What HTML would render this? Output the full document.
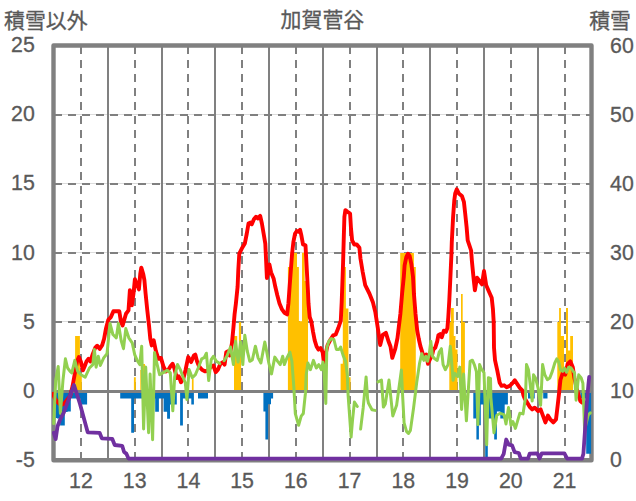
<!DOCTYPE html>
<html><head><meta charset="utf-8"><title>chart</title>
<style>html,body{margin:0;padding:0;background:#fff;overflow:hidden}svg{display:block}text{font-family:"Liberation Sans",sans-serif}</style>
</head><body>
<svg width="636" height="501" viewBox="0 0 636 501">
<rect width="636" height="501" fill="#fff"/>
<defs><clipPath id="c"><rect x="53.5" y="45.5" width="537.7" height="416.7"/></clipPath><clipPath id="c2"><rect x="52.0" y="45.5" width="541.0" height="417.7"/></clipPath></defs>
<rect x="53.5" y="45.5" width="538.0" height="414.7" fill="none" stroke="#808080" stroke-width="4.4" stroke-linejoin="round"/>
<line x1="55.5" x2="589.5" y1="321.5" y2="321.5" stroke="#dcdcdc" stroke-width="1"/>
<line x1="55.5" x2="589.5" y1="252.5" y2="252.5" stroke="#dcdcdc" stroke-width="1"/>
<line x1="55.5" x2="589.5" y1="183.5" y2="183.5" stroke="#dcdcdc" stroke-width="1"/>
<line x1="55.5" x2="589.5" y1="114.5" y2="114.5" stroke="#dcdcdc" stroke-width="1"/>
<line x1="54" x2="591.5" y1="322" y2="322" stroke="#808080" stroke-width="2" stroke-dasharray="8 6"/>
<line x1="54" x2="591.5" y1="253" y2="253" stroke="#808080" stroke-width="2" stroke-dasharray="8 6"/>
<line x1="54" x2="591.5" y1="184" y2="184" stroke="#808080" stroke-width="2" stroke-dasharray="8 6"/>
<line x1="54" x2="591.5" y1="115" y2="115" stroke="#808080" stroke-width="2" stroke-dasharray="8 6"/>
<line x1="108" x2="108" y1="45.5" y2="460.2" stroke="#808080" stroke-width="2"/>
<line x1="162" x2="162" y1="45.5" y2="460.2" stroke="#808080" stroke-width="2"/>
<line x1="215" x2="215" y1="45.5" y2="460.2" stroke="#808080" stroke-width="2"/>
<line x1="269" x2="269" y1="45.5" y2="460.2" stroke="#808080" stroke-width="2"/>
<line x1="323" x2="323" y1="45.5" y2="460.2" stroke="#808080" stroke-width="2"/>
<line x1="377" x2="377" y1="45.5" y2="460.2" stroke="#808080" stroke-width="2"/>
<line x1="430" x2="430" y1="45.5" y2="460.2" stroke="#808080" stroke-width="2"/>
<line x1="484" x2="484" y1="45.5" y2="460.2" stroke="#808080" stroke-width="2"/>
<line x1="538" x2="538" y1="45.5" y2="460.2" stroke="#808080" stroke-width="2"/>
<line x1="81" x2="81" y1="46" y2="460.2" stroke="#808080" stroke-width="2" stroke-dasharray="8 6"/>
<line x1="135" x2="135" y1="46" y2="460.2" stroke="#808080" stroke-width="2" stroke-dasharray="8 6"/>
<line x1="188" x2="188" y1="46" y2="460.2" stroke="#808080" stroke-width="2" stroke-dasharray="8 6"/>
<line x1="242" x2="242" y1="46" y2="460.2" stroke="#808080" stroke-width="2" stroke-dasharray="8 6"/>
<line x1="296" x2="296" y1="46" y2="460.2" stroke="#808080" stroke-width="2" stroke-dasharray="8 6"/>
<line x1="350" x2="350" y1="46" y2="460.2" stroke="#808080" stroke-width="2" stroke-dasharray="8 6"/>
<line x1="403" x2="403" y1="46" y2="460.2" stroke="#808080" stroke-width="2" stroke-dasharray="8 6"/>
<line x1="457" x2="457" y1="46" y2="460.2" stroke="#808080" stroke-width="2" stroke-dasharray="8 6"/>
<line x1="511" x2="511" y1="46" y2="460.2" stroke="#808080" stroke-width="2" stroke-dasharray="8 6"/>
<line x1="565" x2="565" y1="46" y2="460.2" stroke="#808080" stroke-width="2" stroke-dasharray="8 6"/>
<g clip-path="url(#c)">
<path d="M75.1,391.5V336.0H79.9V391.5ZM76.8,391.5V373.0H81.8V391.5ZM133.9,391.5V377.2H135.8V391.5ZM140.3,391.5V370.0H141.3V391.5ZM143.1,391.5V364.0H145.0V391.5ZM191.9,391.5V379.0H193.6V391.5ZM234.0,391.5V336.1H237.2V391.5ZM235.0,391.5V336.3H236.7V391.5ZM237.2,391.5V363.0H238.9V321.9H241.1V391.5ZM287.9,391.5V267.1H290.6V252.8H297.0V267.1H298.9V321.2H302.0V252.8H304.7V281.0H308.0V391.5ZM340.6,391.5V363.8H342.8V267.1H345.9V308.6H348.4V377.2H350.6V391.5ZM400.2,391.5V253.0H413.9V267.1H415.8V391.5ZM449.3,391.5V322.0H451.0V307.9H453.8V336.1H455.5V349.5H457.5V391.5ZM461.0,391.5V293.9H462.7V322.1H464.9V391.5ZM557.3,391.5V322.0H559.1V308.1H560.9V336.1H564.0V375.5H566.0V308.1H568.0V350.4H570.2V336.1H573.0V391.5Z" fill="#ffc000"/>
<path d="M55.7,391.5V418.0H56.9V418.5H60.1V425.5H64.8V412.0H67.6V411.6H70.8V398.6H80.8V404.5H87.1V391.5ZM120.2,391.5V398.6H131.2V432.8H134.0V398.6H141.3V398.6H155.2V411.7H158.9V398.6H163.6V411.7H167.1V418.7H170.0V404.5H176.8V391.5ZM180.1,391.5V425.5H182.9V398.6H191.3V404.5H193.9V391.5ZM198.0,391.5V398.6H208.0V391.5ZM263.4,391.5V411.5H265.4V439.5H268.1V404.3H271.0V398.4H273.1V391.5ZM473.3,391.5V418.4H476.4V439.6H478.9V425.3H480.8V404.5H485.2V457.2H487.8V418.4H494.2V439.6H496.9V411.6H500.3V418.4H504.7V404.5H507.9V391.5ZM528.0,391.5V398.5H534.7V391.5ZM543.2,391.5V398.5H547.5V391.5ZM580.3,391.5V398.5H586.2V453.8H591.5V391.5Z" fill="#0070c0"/>
<line x1="53.5" x2="591.5" y1="391.50" y2="391.50" stroke="#808080" stroke-width="3"/>
</g>
<g clip-path="url(#c2)">
<polyline points="53.1,393.8 55.0,398.8 57.5,402.0 60.7,405.1 63.8,403.9 67.0,400.1 70.1,396.3 72.6,386.0 75.2,371.5 77.0,361.4 78.9,357.0 80.8,361.4 83.0,370.3 84.6,366.5 86.5,361.4 88.4,358.9 90.3,361.4 92.8,353.9 95.3,347.6 97.2,345.7 99.7,348.9 102.2,345.1 104.1,338.8 105.9,328.8 108.4,319.6 110.9,317.1 113.4,311.2 116.8,311.2 119.3,311.2 121.0,322.1 122.6,325.4 124.3,319.6 126.0,313.7 128.5,310.4 129.9,290.2 131.9,305.3 133.5,293.6 134.9,279.3 136.9,284.4 138.9,289.4 140.3,273.5 141.3,267.6 143.3,274.3 144.4,280.2 145.6,293.6 147.3,310.4 149.0,325.4 150.3,338.9 151.7,345.4 153.7,340.3 155.9,351.2 158.4,358.8 160.9,357.9 163.4,366.3 165.9,371.4 168.4,369.7 170.5,366.3 172.6,363.8 174.3,368.0 176.8,378.0 178.8,376.4 181.0,382.2 183.5,378.0 185.6,369.7 188.2,357.1 191.1,362.1 193.9,355.4 195.3,354.6 197.0,361.3 199.0,366.3 202.0,369.7 205.3,371.4 208.7,369.7 211.2,366.3 213.4,365.5 215.7,372.2 217.9,369.7 220.4,363.8 223.0,362.1 224.6,364.6 226.3,352.1 228.0,351.2 229.7,355.4 231.9,343.7 233.4,328.0 234.6,314.0 235.9,303.5 237.6,286.8 238.3,270.0 239.3,253.6 241.8,248.6 244.8,243.6 246.8,233.5 248.5,223.5 250.2,222.6 251.8,224.3 253.9,219.3 256.0,216.7 258.0,218.4 260.2,215.9 261.9,223.5 263.6,233.5 265.3,243.6 266.1,260.4 266.9,278.0 268.3,272.1 269.4,264.5 271.1,272.5 273.6,278.4 275.3,286.8 277.3,295.2 279.5,303.5 282.0,309.4 284.5,312.8 287.1,314.4 288.4,303.5 289.6,286.8 290.7,272.1 292.1,253.6 293.4,241.9 295.1,233.5 296.8,231.0 298.5,231.8 300.1,229.8 301.3,235.2 303.0,244.4 305.5,245.3 306.3,260.4 307.2,277.1 307.9,290.0 308.5,303.5 309.7,317.0 311.4,322.0 313.1,332.1 314.7,340.4 316.6,346.5 318.4,349.6 320.6,348.0 322.7,352.5 324.1,364.6 325.5,354.6 327.5,345.4 330.5,339.5 333.2,335.4 335.7,334.5 338.3,328.0 340.8,320.6 341.7,301.9 342.6,276.8 343.1,262.1 343.8,236.9 344.4,216.8 345.4,210.1 347.6,211.8 350.1,213.5 351.0,228.5 352.1,240.3 354.3,244.5 356.8,244.5 359.4,247.8 360.5,258.7 362.7,272.0 365.2,285.2 369.4,293.5 372.8,301.9 375.3,312.0 377.8,328.0 380.2,345.0 382.7,335.0 385.9,332.9 388.4,341.0 390.5,346.5 392.3,357.9 395.3,348.7 397.5,338.0 398.8,327.1 400.4,313.7 402.1,293.5 403.8,276.8 404.6,265.4 406.3,257.1 408.0,253.7 409.7,256.2 411.3,263.8 413.0,276.8 413.9,293.5 415.5,313.7 417.2,330.4 418.8,339.0 420.4,346.2 422.5,352.9 424.6,357.9 426.3,354.6 428.0,363.8 430.2,358.8 432.2,354.6 433.4,349.5 435.3,347.6 437.2,341.4 438.4,335.1 440.1,334.1 441.8,337.3 443.8,330.7 446.0,331.9 447.4,328.1 448.3,317.1 449.3,300.3 450.5,275.2 451.4,255.0 451.8,242.1 453.1,216.9 454.3,200.2 455.2,193.4 456.8,189.3 458.8,193.4 461.9,196.0 463.9,201.8 465.2,213.6 466.6,227.0 467.7,240.4 469.4,245.4 471.1,250.5 471.9,261.0 473.6,278.5 474.9,290.3 477.0,277.7 479.5,281.0 482.0,284.4 484.0,271.0 486.2,285.2 488.7,291.1 491.7,297.8 492.9,308.7 493.7,322.1 494.0,347.6 495.0,360.2 497.2,370.2 499.7,382.8 501.6,385.9 504.1,385.3 506.6,387.2 509.7,385.9 512.3,383.4 514.8,380.3 517.3,384.1 519.8,387.8 522.3,390.3 523.5,395.5 524.6,398.4 527.2,402.6 529.7,406.8 532.2,409.4 534.7,407.7 538.1,411.0 540.6,409.4 543.1,416.1 545.4,422.4 547.9,415.6 550.3,419.4 553.3,422.4 556.0,419.4 557.7,405.2 559.4,390.1 560.4,380.0 562.7,373.0 565.2,374.7 567.7,363.8 570.3,361.3 572.8,367.2 574.4,378.1 577.0,389.8 579.2,397.0 580.3,401.0 582.0,402.5" fill="none" stroke="#ff0000" stroke-width="3.9" stroke-linejoin="round" stroke-linecap="round"/>
<polyline points="53.7,423.6 55.7,380.3 58.2,366.5 60.4,413.5 63.0,380.0 65.4,358.8 67.6,368.0 70.1,371.4 71.8,373.0 74.8,360.4 77.7,371.4 81.0,374.7 85.2,377.2 89.4,368.0 92.8,364.6 94.4,349.5 96.1,367.2 98.3,356.3 100.3,365.5 103.7,357.9 107.0,353.7 110.0,323.5 112.9,334.5 116.3,337.8 118.4,323.5 121.3,341.2 123.5,348.7 125.8,328.6 128.8,337.8 132.2,342.8 134.7,354.6 137.2,360.4 139.7,364.6 141.7,346.2 143.6,429.0 145.7,367.0 148.6,432.8 150.1,374.0 152.6,439.7 154.5,352.6 157.0,363.9 159.6,374.6 163.3,372.7 167.1,370.2 170.3,372.7 172.8,410.8 174.7,376.5 177.5,364.5 180.3,369.6 182.8,376.5 185.3,382.8 186.9,399.5 189.1,369.6 192.3,377.7 195.4,374.6 198.6,367.0 201.7,358.9 204.2,357.6 206.4,353.2 208.7,380.6 211.2,359.6 213.4,356.3 216.3,361.3 219.8,363.6" fill="none" stroke="#92d050" stroke-width="3.0" stroke-linejoin="round" stroke-linecap="round"/>
<polyline points="224.1,360.8 227.2,355.4 230.5,347.0 233.4,364.6 235.5,341.2 238.1,362.1 240.6,342.0 242.8,364.6 244.8,335.3 247.3,351.2 249.8,361.3 252.3,360.0 255.4,346.2 258.1,357.9 260.9,363.0 264.8,342.0 266.8,352.1 268.8,363.0 271.5,373.9 274.8,357.1 277.7,361.3 280.2,364.6 282.7,356.3 284.4,364.6 286.9,357.9 289.9,352.1 291.9,361.3 293.9,388.1 295.3,413.5 298.6,425.3 301.2,416.1 303.3,413.5 305.4,393.4 306.2,374.7 307.9,363.0 310.4,369.7 313.4,360.4 316.3,368.0 318.8,364.6 321.3,369.7 323.0,362.1 323.8,366.3 325.8,403.5 326.8,347.9 328.8,341.2 331.3,338.6 333.9,339.5 336.4,349.5 338.9,349.5 340.6,347.0 343.1,355.4 345.6,361.3 347.3,374.7 348.1,395.2 351.1,437.0 352.5,420.3 354.4,402.1 357.3,406.5" fill="none" stroke="#92d050" stroke-width="3.0" stroke-linejoin="round" stroke-linecap="round"/>
<polyline points="360.6,429.1 363.2,407.7 366.1,376.9 367.6,398.9 368.4,403.0 372.0,409.7 375.0,410.4" fill="none" stroke="#92d050" stroke-width="3.0" stroke-linejoin="round" stroke-linecap="round"/>
<polyline points="378.0,381.9 381.5,380.1 383.4,407.1 385.3,404.0 389.0,380.1 392.8,415.9 396.6,405.2 401.4,370.0 402.6,395.2 404.1,422.8 406.6,431.6 408.5,433.5 410.4,430.4 413.6,407.7 416.7,382.6 419.6,363.0 421.8,353.7 423.8,360.4 425.8,356.3 427.5,361.3 429.2,354.6 430.8,341.2 432.5,356.3 434.7,358.8 437.2,360.4 439.2,352.1 441.4,348.7 443.1,364.6 445.3,369.7 448.1,364.6 450.3,346.3 451.5,360.2 453.1,380.3 455.0,373.4 457.8,376.5 459.8,367.1 461.6,409.5 463.6,374.0 466.4,420.8 470.1,361.4 472.4,360.2 474.5,365.2 476.4,371.5 477.9,424.6 479.6,364.6 481.4,369.0 484.0,372.7 486.7,444.7 488.4,377.8 490.5,378.4 490.9,397.6 494.0,432.8 496.8,415.2 500.3,413.3 504.1,414.6 506.0,424.0 508.5,407.6 511.0,425.3 512.9,421.5 515.4,428.4 519.8,413.3 523.0,413.9 525.5,397.6 526.5,364.6 528.4,369.5 532.2,401.0 533.5,374.7 535.5,378.0 538.1,388.1 540.6,405.2 542.6,364.6 544.8,374.7 547.3,379.7 549.8,378.0 552.3,371.4 554.8,363.0 556.8,358.8 558.8,362.1 560.5,369.7 562.7,371.4 564.4,368.0 566.6,372.2 568.6,367.2 571.1,368.0 573.3,371.4 574.5,372.7 576.1,400.2 578.7,374.8 581.2,378.0 582.9,383.3 584.6,429.8 588.2,415.0 590.3,412.9" fill="none" stroke="#92d050" stroke-width="3.0" stroke-linejoin="round" stroke-linecap="round"/>
<polyline points="53.8,432.8 55.7,439.1 57.5,426.5 60.1,419.6 63.8,412.7 74.0,385.0 80.0,404.0 87.7,432.3 99.6,432.8 101.8,438.3 112.2,438.8 114.7,445.0 122.2,445.8 124.1,452.0 126.3,453.6 128.5,458.6 501.2,458.6 503.7,453.8 506.2,439.5 508.7,444.6 512.1,445.4 514.6,452.1 518.8,453.0 520.8,458.6 528.0,458.6 529.7,453.6 537.4,453.4 539.5,458.6 541.8,453.3 564.4,453.3 567.2,458.6 582.0,458.6 583.4,453.8 585.0,430.3 586.6,405.2 588.4,385.0 589.2,377.0" fill="none" stroke="#7030a0" stroke-width="3.8" stroke-linejoin="round" stroke-linecap="round"/>
</g>
<text x="34.8" y="52.20" text-anchor="end" style="font-family:'Liberation Sans',sans-serif;font-size:21.3px;fill:#595959;stroke:#595959;stroke-width:0.3px">25</text>
<text x="34.8" y="121.32" text-anchor="end" style="font-family:'Liberation Sans',sans-serif;font-size:21.3px;fill:#595959;stroke:#595959;stroke-width:0.3px">20</text>
<text x="34.8" y="190.43" text-anchor="end" style="font-family:'Liberation Sans',sans-serif;font-size:21.3px;fill:#595959;stroke:#595959;stroke-width:0.3px">15</text>
<text x="34.8" y="259.55" text-anchor="end" style="font-family:'Liberation Sans',sans-serif;font-size:21.3px;fill:#595959;stroke:#595959;stroke-width:0.3px">10</text>
<text x="34.8" y="328.67" text-anchor="end" style="font-family:'Liberation Sans',sans-serif;font-size:21.3px;fill:#595959;stroke:#595959;stroke-width:0.3px">5</text>
<text x="34.8" y="397.78" text-anchor="end" style="font-family:'Liberation Sans',sans-serif;font-size:21.3px;fill:#595959;stroke:#595959;stroke-width:0.3px">0</text>
<text x="34.8" y="466.90" text-anchor="end" style="font-family:'Liberation Sans',sans-serif;font-size:21.3px;fill:#595959;stroke:#595959;stroke-width:0.3px">-5</text>
<text x="610.1" y="52.50" text-anchor="start" style="font-family:'Liberation Sans',sans-serif;font-size:21.3px;fill:#595959;stroke:#595959;stroke-width:0.3px">60</text>
<text x="610.1" y="121.62" text-anchor="start" style="font-family:'Liberation Sans',sans-serif;font-size:21.3px;fill:#595959;stroke:#595959;stroke-width:0.3px">50</text>
<text x="610.1" y="190.73" text-anchor="start" style="font-family:'Liberation Sans',sans-serif;font-size:21.3px;fill:#595959;stroke:#595959;stroke-width:0.3px">40</text>
<text x="610.1" y="259.85" text-anchor="start" style="font-family:'Liberation Sans',sans-serif;font-size:21.3px;fill:#595959;stroke:#595959;stroke-width:0.3px">30</text>
<text x="610.1" y="328.97" text-anchor="start" style="font-family:'Liberation Sans',sans-serif;font-size:21.3px;fill:#595959;stroke:#595959;stroke-width:0.3px">20</text>
<text x="610.1" y="398.08" text-anchor="start" style="font-family:'Liberation Sans',sans-serif;font-size:21.3px;fill:#595959;stroke:#595959;stroke-width:0.3px">10</text>
<text x="610.1" y="467.20" text-anchor="start" style="font-family:'Liberation Sans',sans-serif;font-size:21.3px;fill:#595959;stroke:#595959;stroke-width:0.3px">0</text>
<text x="80.94" y="487.6" text-anchor="middle" style="font-family:'Liberation Sans',sans-serif;font-size:21.3px;fill:#595959;stroke:#595959;stroke-width:0.3px">12</text>
<text x="134.67" y="487.6" text-anchor="middle" style="font-family:'Liberation Sans',sans-serif;font-size:21.3px;fill:#595959;stroke:#595959;stroke-width:0.3px">13</text>
<text x="188.40" y="487.6" text-anchor="middle" style="font-family:'Liberation Sans',sans-serif;font-size:21.3px;fill:#595959;stroke:#595959;stroke-width:0.3px">14</text>
<text x="242.13" y="487.6" text-anchor="middle" style="font-family:'Liberation Sans',sans-serif;font-size:21.3px;fill:#595959;stroke:#595959;stroke-width:0.3px">15</text>
<text x="295.85" y="487.6" text-anchor="middle" style="font-family:'Liberation Sans',sans-serif;font-size:21.3px;fill:#595959;stroke:#595959;stroke-width:0.3px">16</text>
<text x="349.58" y="487.6" text-anchor="middle" style="font-family:'Liberation Sans',sans-serif;font-size:21.3px;fill:#595959;stroke:#595959;stroke-width:0.3px">17</text>
<text x="403.31" y="487.6" text-anchor="middle" style="font-family:'Liberation Sans',sans-serif;font-size:21.3px;fill:#595959;stroke:#595959;stroke-width:0.3px">18</text>
<text x="457.04" y="487.6" text-anchor="middle" style="font-family:'Liberation Sans',sans-serif;font-size:21.3px;fill:#595959;stroke:#595959;stroke-width:0.3px">19</text>
<text x="510.77" y="487.6" text-anchor="middle" style="font-family:'Liberation Sans',sans-serif;font-size:21.3px;fill:#595959;stroke:#595959;stroke-width:0.3px">20</text>
<text x="564.50" y="487.6" text-anchor="middle" style="font-family:'Liberation Sans',sans-serif;font-size:21.3px;fill:#595959;stroke:#595959;stroke-width:0.3px">21</text>
<text x="4.0" y="28.4" text-anchor="start" style="font-family:'Liberation Sans','Noto Sans CJK JP',sans-serif;font-size:20.9px;fill:#595959;stroke:#595959;stroke-width:0.3px">積雪以外</text>
<text x="280.6" y="27.0" text-anchor="start" style="font-family:'Liberation Sans','Noto Sans CJK JP',sans-serif;font-size:20.9px;fill:#595959;stroke:#595959;stroke-width:0.3px">加賀菅谷</text>
<text x="589.2" y="28.4" text-anchor="start" style="font-family:'Liberation Sans','Noto Sans CJK JP',sans-serif;font-size:20.9px;fill:#595959;stroke:#595959;stroke-width:0.3px">積雪</text>
</svg>
</body></html>
